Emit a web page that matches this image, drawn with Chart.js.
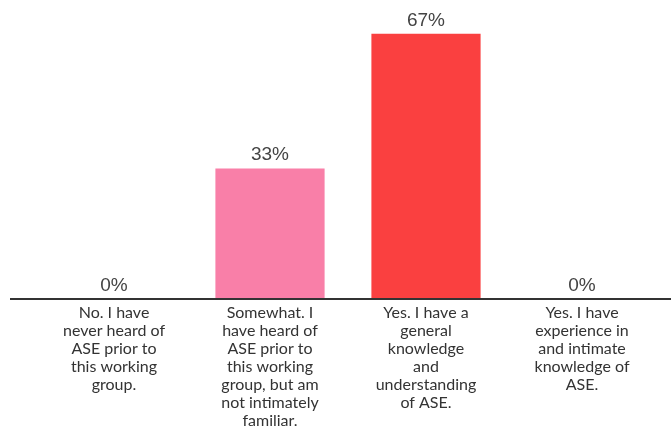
<!DOCTYPE html>
<html>
<head>
<meta charset="utf-8">
<script src="https://cdn.jsdelivr.net/npm/chart.js@4"></script>
<style>
  html, body { margin: 0; padding: 0; background: #fff; }
  #wrap { width: 671px; height: 431px; }
</style>
</head>
<body>
<div id="wrap"><canvas id="grafico"></canvas></div>
<script>
const categorias = [
  ["No. I have", "never heard of", "ASE prior to", "this working", "group."],
  ["Somewhat. I", "have heard of", "ASE prior to", "this working", "group, but am", "not intimately", "familiar."],
  ["Yes. I have a", "general", "knowledge", "and", "understanding", "of ASE."],
  ["Yes. I have", "experience in", "and intimate", "knowledge of", "ASE."]
];
const valores = [0, 33, 67, 0];
const cores = ["#f97fa8", "#f97fa8", "#fa4040", "#fa4040"];

// rotulos de valor acima das barras + linha do eixo
const rotulos = {
  id: "rotulos",
  afterDatasetsDraw(chart) {
    const ctx = chart.ctx;
    const meta = chart.getDatasetMeta(0);
    ctx.save();
    ctx.font = "19px 'Liberation Sans', Arial, sans-serif";
    ctx.fillStyle = "#444";
    ctx.textAlign = "center";
    ctx.textBaseline = "bottom";
    meta.data.forEach((bar, i) => {
      ctx.fillText(valores[i] + "%", bar.x, bar.y - 4);
    });
    const y0 = chart.scales.y.getPixelForValue(0);
    ctx.strokeStyle = "#333";
    ctx.lineWidth = 2;
    ctx.beginPath();
    ctx.moveTo(10, y0);
    ctx.lineTo(chart.width, y0);
    ctx.stroke();
    ctx.restore();
  }
};

new Chart(document.getElementById("grafico"), {
  type: "bar",
  data: {
    labels: categorias,
    datasets: [{
      data: valores,
      backgroundColor: cores,
      barPercentage: 0.7,
      categoryPercentage: 1
    }]
  },
  options: {
    responsive: true,
    maintainAspectRatio: false,
    animation: false,
    layout: { padding: { top: 22, left: 36, right: 11, bottom: 0 } },
    plugins: { legend: { display: false }, tooltip: { enabled: false } },
    scales: {
      x: {
        grid: { display: false, drawTicks: false },
        border: { display: false },
        ticks: {
          color: "#333",
          padding: 5,
          maxRotation: 0,
          autoSkip: false,
          font: { family: "Lato, 'Open Sans', sans-serif", size: 16, lineHeight: 1.12 }
        },
        afterFit(scale) { scale.height = 132; }
      },
      y: {
        display: false,
        min: 0,
        max: 70
      }
    }
  },
  plugins: [rotulos]
});
</script>
</body>
</html>
